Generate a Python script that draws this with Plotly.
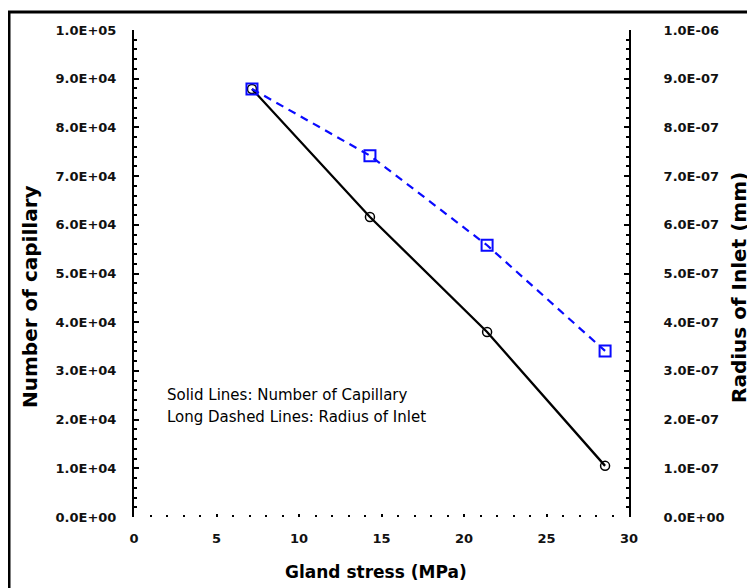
import plotly.graph_objects as go

# ---- data ----
stress = [7.15, 14.3, 21.4, 28.55]
capillary = [87900, 61600, 38000, 10500]
radius = [8.79e-7, 7.42e-7, 5.58e-7, 3.41e-7]

x_tickvals = [0, 5, 10, 15, 20, 25, 30]
x_ticktext = ["0", "5", "10", "15", "20", "25", "30"]
y1_tickvals = [0, 10000, 20000, 30000, 40000, 50000, 60000, 70000, 80000, 90000, 100000]
y1_ticktext = ["0.0E+00", "1.0E+04", "2.0E+04", "3.0E+04", "4.0E+04", "5.0E+04",
               "6.0E+04", "7.0E+04", "8.0E+04", "9.0E+04", "1.0E+05"]
y2_tickvals = [0, 1e-7, 2e-7, 3e-7, 4e-7, 5e-7, 6e-7, 7e-7, 8e-7, 9e-7, 1e-6]
y2_ticktext = ["0.0E+00", "1.0E-07", "2.0E-07", "3.0E-07", "4.0E-07", "5.0E-07",
               "6.0E-07", "7.0E-07", "8.0E-07", "9.0E-07", "1.0E-06"]

FONT = "DejaVu Sans"
OFF = 8  # default page body margin
W, H = 747, 580
L, R, T, B = 126, 126, 22, 71
PW, PH = W - L - R, H - T - B


def px(x):  # page pixel -> paper x
    return (x - OFF - L) / PW


def py(y):  # page pixel -> paper y
    return (H - B - (y - OFF)) / PH


fig = go.Figure()
fig.add_trace(go.Scatter(
    x=stress, y=capillary, mode="lines+markers", yaxis="y",
    line=dict(color="black", width=2.3),
    marker=dict(symbol="circle-open", size=9, color="black", line=dict(width=1.5)),
    showlegend=False))
fig.add_trace(go.Scatter(
    x=stress, y=radius, mode="lines+markers", yaxis="y2",
    line=dict(color="#0a0aff", width=2.2, dash="8px,6px"),
    marker=dict(symbol="square-open", size=11, color="#0a0aff", line=dict(width=2)),
    showlegend=False))

tickfont = dict(family=FONT, size=13, color="#111", weight="bold")

fig.update_layout(
    width=W, height=H, autosize=False,
    margin=dict(l=L, r=R, t=T, b=B, pad=0),
    paper_bgcolor="white", plot_bgcolor="white",
    xaxis=dict(range=[0, 30], showline=False, showgrid=False, zeroline=False,
               tickvals=x_tickvals, ticktext=x_ticktext, ticks="inside",
               ticklen=3, tickwidth=2, tickcolor="black", tickfont=tickfont,
               ticklabelstandoff=12,
               minor=dict(ticks="inside", dtick=1, ticklen=2, tickwidth=2, tickcolor="black")),
    yaxis=dict(range=[0, 100000], showline=True, linewidth=2, linecolor="black",
               showgrid=False, zeroline=False,
               tickvals=y1_tickvals, ticktext=y1_ticktext, ticks="inside",
               ticklen=5, tickwidth=1.5, tickcolor="black", tickfont=tickfont,
               ticklabelstandoff=13,
               minor=dict(ticks="inside", dtick=2000, ticklen=3, tickwidth=1.5, tickcolor="black")),
    yaxis2=dict(range=[0, 1e-6], overlaying="y", side="right", showline=True,
                linewidth=2, linecolor="black", showgrid=False, zeroline=False,
                tickvals=y2_tickvals, ticktext=y2_ticktext, ticks="inside",
                ticklen=5, tickwidth=1.5, tickcolor="black", tickfont=tickfont,
                ticklabelstandoff=30,
                minor=dict(ticks="inside", dtick=2e-8, ticklen=3, tickwidth=1.5, tickcolor="black")),
)

title_font = dict(family=FONT, size=20, color="black")
anns = [
    dict(text="<b>Number of capillary</b>", x=px(30), y=py(297), textangle=-90, font=title_font),
    dict(text="<b>Radius of Inlet (mm)</b>", x=px(739), y=py(288), textangle=-90, font=title_font),
    dict(text="<b>Gland stress (MPa)</b>", x=px(376), y=py(572), font=dict(family=FONT, size=17, color="black")),
    dict(text="Solid Lines: Number of Capillary", x=px(165), y=py(395), xanchor="left",
         font=dict(family=FONT, size=15, color="black")),
    dict(text="Long Dashed Lines: Radius of Inlet", x=px(165), y=py(417), xanchor="left",
         font=dict(family=FONT, size=15, color="black")),
]
for a in anns:
    a.setdefault("xanchor", "center")
    fig.add_annotation(xref="paper", yref="paper", showarrow=False, yanchor="middle", **a)

# outer frame (top and left edges visible in the reference)
fig.add_shape(type="rect", xref="paper", yref="paper",
              x0=px(9), x1=px(800), y0=py(12), y1=py(640),
              line=dict(color="black", width=3), fillcolor="rgba(0,0,0,0)", layer="above")

fig.write_html("out.html")
